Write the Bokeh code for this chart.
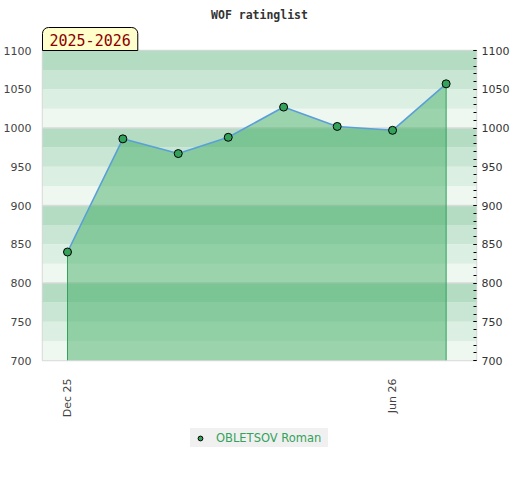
from datetime import datetime
from math import pi

from bokeh.plotting import figure
from bokeh.layouts import column
from bokeh.models import (LinearAxis, FixedTicker, Range1d, DatetimeTickFormatter,
                          Title, Legend, LegendItem, BoxAnnotation, Span, ColumnDataSource)
from bokeh.embed import file_html
from bokeh.resources import INLINE

# ---------------- data ----------------
dates = ["2025-12-01", "2026-01-01", "2026-02-01", "2026-03-01",
         "2026-04-01", "2026-05-01", "2026-06-01", "2026-07-01"]
ratings = [840, 986, 967, 988, 1027, 1002, 997, 1057]
player = "OBLETSOV Roman"
title_text = "WOF ratinglist"
season_text = "2025-2026"
y_ticks = [700, 750, 800, 850, 900, 950, 1000, 1050, 1100]
y_minor_ticks = [700 + 10 * i for i in range(41)]
grid_levels = [800, 900, 1000]
x_tick_dates = ["2025-12-01", "2026-06-01"]
x_start, x_end = "2025-11-17", "2026-07-18"
y_min, y_max = 700, 1100
band_colors = ["#eff7f1", "#dcefe3", "#c8e6d3", "#b3dcc3"]  # bottom -> top inside each 100 block

GREEN = "#34a25b"

# ---------------- helpers ----------------
def d(s):
    return datetime.strptime(s, "%Y-%m-%d")

xs = [d(s) for s in dates]
src = ColumnDataSource(dict(x=xs, y=ratings, base=[y_min] * len(xs)))

p = figure(width=512, height=420, x_axis_type="datetime",
           x_range=Range1d(d(x_start), d(x_end)), y_range=Range1d(y_min, y_max),
           output_backend="svg", toolbar_location=None,
           min_border_left=40, min_border_right=0, min_border_top=50, min_border_bottom=60)
p.background_fill_color = "white"
p.border_fill_color = "white"
p.outline_line_color = "#d9d9d9"
p.outline_line_width = 1.5
p.xgrid.visible = False
p.ygrid.visible = False

# background bands
for lo in range(y_min, y_max, 100):
    for i, c in enumerate(band_colors):
        p.add_layout(BoxAnnotation(bottom=lo + 25 * i, top=lo + 25 * (i + 1),
                                   fill_color=c, fill_alpha=1.0, line_color=None,
                                   level="underlay"))
for g in grid_levels:
    p.add_layout(Span(location=g, dimension="width", line_color="#dadada",
                      line_width=1.5, level="underlay"))

# area + edges + line + points
p.varea(x="x", y1="base", y2="y", source=src, fill_color="#3fab63", fill_alpha=0.48)
p.segment(x0=[xs[0], xs[-1]], x1=[xs[0], xs[-1]], y0=[y_min, y_min],
          y1=[ratings[0], ratings[-1]], line_color=GREEN, line_width=1)
p.line(x="x", y="y", source=src, line_color="#5a9fd8", line_width=1.6)
pts = p.scatter(x="x", y="y", source=src, size=8, fill_color=GREEN,
                line_color="black", line_width=1)

# x axis
xa = p.xaxis[0]
xa.ticker = FixedTicker(ticks=[d(s).timestamp() * 1000 for s in x_tick_dates])
xa.formatter = DatetimeTickFormatter(months="%b %y", days="%b %y", years="%b %y")
xa.major_label_orientation = pi / 2
xa.major_tick_line_color = None
xa.minor_tick_line_color = None
xa.axis_line_color = None
xa.major_label_standoff = 12
xa.major_label_text_font = "DejaVu Sans"
xa.major_label_text_font_size = "11px"
xa.major_label_text_color = "#444444"

# left y axis
ya = p.yaxis[0]
ya.ticker = FixedTicker(ticks=y_ticks)
ya.major_tick_line_color = None
ya.minor_tick_line_color = None
ya.axis_line_color = None
ya.major_label_standoff = 5
ya.major_label_text_font = "DejaVu Sans"
ya.major_label_text_font_size = "11px"
ya.major_label_text_color = "#444444"

# right y axis
ra = LinearAxis(ticker=FixedTicker(ticks=y_ticks, minor_ticks=y_minor_ticks))
ra.axis_line_color = None
ra.major_tick_in = 3
ra.major_tick_out = 0
ra.minor_tick_in = 3
ra.minor_tick_out = 0
ra.major_tick_line_color = "black"
ra.minor_tick_line_color = "black"
ra.major_label_standoff = 5
ra.axis_label_standoff = 0
ra.major_label_text_font = "DejaVu Sans"
ra.major_label_text_font_size = "11px"
ra.major_label_text_color = "#333333"
p.add_layout(ra, "right")

# season tag (closest to frame) and title
p.add_layout(Title(text=season_text, align="left", offset=0, standoff=0,
                   text_font="DejaVu Sans Mono", text_font_style="normal",
                   text_font_size="15px", text_color="#8b0000",
                   background_fill_color="#ffffcc", border_line_color="black",
                   border_line_width=1,
                   padding=dict(left=7, right=7, top=6, bottom=5),
                   border_radius=(6, 6, 0, 0)), "above")
p.add_layout(Title(text=title_text, align="center", standoff=8,
                   text_font="DejaVu Sans Mono", text_font_style="bold",
                   text_font_size="11.5px", text_color="#333333"), "above")

# legend figure below the chart (proxy point lies outside its visible range)
lf = figure(width=512, height=52, output_backend="svg", toolbar_location=None,
            x_range=Range1d(0, 1), y_range=Range1d(0, 1),
            min_border_left=6, min_border_right=0, min_border_top=0, min_border_bottom=0)
lf.axis.visible = False
lf.grid.visible = False
lf.outline_line_color = None
proxy = lf.scatter(x=[-5], y=[-5], size=8, fill_color=GREEN, line_color="black", line_width=1)
legend = Legend(items=[LegendItem(label=player, renderers=[proxy])],
                location="top_center", orientation="horizontal",
                background_fill_color="#f0f0f0", background_fill_alpha=1.0,
                border_line_color=None, label_text_color=GREEN,
                label_text_font="DejaVu Sans", label_text_font_size="11.5px",
                glyph_width=20, glyph_height=12, label_height=19, label_width=112,
                label_standoff=6, padding=4, margin=8)
lf.add_layout(legend)

layout = column(p, lf, spacing=0)
open("out.html", "w").write(file_html(layout, INLINE))
